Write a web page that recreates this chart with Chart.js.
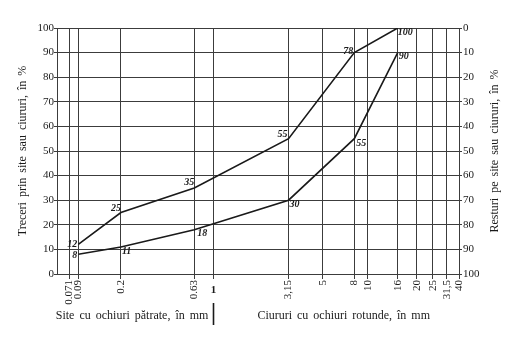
<!DOCTYPE html>
<html>
<head>
<meta charset="utf-8">
<script src="https://cdn.jsdelivr.net/npm/chart.js@4/dist/chart.umd.min.js"></script>
<style>
  html, body { margin: 0; padding: 0; background: #fff; }
  canvas { display: block; }
</style>
</head>
<body>
<canvas id="c" width="514" height="357"></canvas>
<script>
// ---- data ----
const sieveSizes  = [0.071, 0.09, 0.2, 0.63, 1, 3.15, 5, 8, 10, 16, 20, 25, 31.5, 40];
const sieveLabels = ['0.071', '0.09', '0.2', '0.63', '1', '3,15', '5', '8', '10', '16', '20', '25', '31,5', '40'];
const upperSizes   = [0.09, 0.2, 0.63, 3.15, 8, 16];
const upperPassing = [12, 25, 35, 55, 90, 100];
const upperLabels  = ['12', '25', '35', '55', '78', '100'];
const lowerSizes   = [0.09, 0.2, 0.63, 3.15, 8, 16];
const lowerPassing = [8, 11, 18, 30, 55, 90];
const lowerLabels  = ['8', '11', '18', '30', '55', '90'];
const passingTicks = [0, 10, 20, 30, 40, 50, 60, 70, 80, 90, 100];
const leftTitle   = 'Treceri prin site sau ciururi, în %';
const rightTitle  = 'Resturi pe site sau ciururi, în %';
const squareTitle = 'Site cu ochiuri pătrate, în mm';
const roundTitle  = 'Ciururi cu ochiuri rotunde, în mm';

// ---- custom sieve scale (piecewise logarithmic, calibrated to the printed chart) ----
class SieveScale extends Chart.LinearScale {
  static id = 'sieve';
  determineDataLimits() {
    const s = this.options.calibSizes;
    this.min = s[0];
    this.max = s[s.length - 1];
  }
  buildTicks() {
    return this.options.tickValues.map(v => ({ value: v }));
  }
  getDecimalForValue(v) {
    const s = this.options.calibSizes, f = this.options.calibFractions;
    if (v <= s[0]) return f[0];
    for (let i = 0; i < s.length - 1; i++) {
      if (v <= s[i + 1]) {
        const t = (Math.log(v) - Math.log(s[i])) / (Math.log(s[i + 1]) - Math.log(s[i]));
        return f[i] + t * (f[i + 1] - f[i]);
      }
    }
    return f[f.length - 1];
  }
  getPixelForValue(v) {
    if (v === null || v === undefined || isNaN(v)) return NaN;
    return this.getPixelForDecimal(this.getDecimalForValue(v));
  }
  getValueForPixel(p) {
    const d = this.getDecimalForPixel(p);
    const s = this.options.calibSizes, f = this.options.calibFractions;
    for (let i = 0; i < f.length - 1; i++) {
      if (d <= f[i + 1]) {
        const t = (d - f[i]) / (f[i + 1] - f[i]);
        return Math.exp(Math.log(s[i]) + t * (Math.log(s[i + 1]) - Math.log(s[i])));
      }
    }
    return s[s.length - 1];
  }
}
Chart.register(SieveScale);

const INK = '#1a1a1a';
const GRID = '#3c3c3c';
const SERIF = '"Liberation Serif", "DejaVu Serif", serif';

const annotate = {
  id: 'annotate',
  beforeDraw(chart) {
    const ctx = chart.ctx;
    ctx.save();
    ctx.fillStyle = '#fff';
    ctx.fillRect(0, 0, chart.width, chart.height);
    ctx.restore();
  },
  afterDraw(chart, args, opts) {
    const ctx = chart.ctx;
    const xs = chart.scales.x;
    const area = chart.chartArea;
    ctx.save();
    ctx.fillStyle = INK;
    ctx.strokeStyle = INK;

    // point value labels
    ctx.font = 'italic bold 10px ' + SERIF;
    ctx.textBaseline = 'middle';
    chart.data.datasets.forEach((ds, di) => {
      const meta = chart.getDatasetMeta(di);
      const offs = opts.offsets[di];
      meta.data.forEach((pt, i) => {
        const o = offs[i];
        ctx.textAlign = o[2];
        ctx.fillText(ds.valueLabels[i], pt.x + o[0], pt.y + o[1]);
      });
    });

    // bold upright "1"
    const x1 = xs.getPixelForValue(1);
    ctx.font = 'bold 11px ' + SERIF;
    ctx.textAlign = 'center';
    ctx.textBaseline = 'middle';
    ctx.fillText(sieveLabels[sieveSizes.indexOf(1)], x1, area.bottom + 16);

    // separator under "1"
    ctx.lineWidth = 1.6;
    ctx.beginPath();
    ctx.moveTo(Math.round(x1) + 0.5, area.bottom + 29);
    ctx.lineTo(Math.round(x1) + 0.5, area.bottom + 51);
    ctx.stroke();

    // bottom titles
    ctx.font = '12px ' + SERIF;
    if ('wordSpacing' in ctx) ctx.wordSpacing = '2px';
    ctx.textBaseline = 'middle';
    ctx.textAlign = 'right';
    ctx.fillText(squareTitle, x1 - 5, area.bottom + 42);
    ctx.textAlign = 'left';
    ctx.fillText(roundTitle, x1 + 44, area.bottom + 42);

    // vertical titles (both read bottom-to-top)
    const cy = (area.top + area.bottom) / 2 + 0;
    ctx.textAlign = 'center';
    ctx.save();
    ctx.translate(23, cy);
    ctx.rotate(-Math.PI / 2);
    ctx.fillText(leftTitle, 0, 0);
    ctx.restore();
    ctx.save();
    ctx.translate(495, cy);
    ctx.rotate(-Math.PI / 2);
    ctx.fillText(rightTitle, 0, 0);
    ctx.restore();

    ctx.restore();
  }
};

const lineStyle = {
  borderColor: INK,
  borderWidth: 1.6,
  pointRadius: 0,
  tension: 0,
  fill: false
};

new Chart(document.getElementById('c'), {
  type: 'line',
  data: {
    datasets: [
      Object.assign({
        label: 'upper',
        data: upperSizes.map((s, i) => ({ x: s, y: upperPassing[i] })),
        valueLabels: upperLabels
      }, lineStyle),
      Object.assign({
        label: 'lower',
        data: lowerSizes.map((s, i) => ({ x: s, y: lowerPassing[i] })),
        valueLabels: lowerLabels
      }, lineStyle)
    ]
  },
  options: {
    responsive: false,
    animation: false,
    devicePixelRatio: 1,
    layout: { padding: { top: 28, left: 0, right: 0, bottom: 0 } },
    plugins: {
      legend: { display: false },
      tooltip: { enabled: false },
      annotate: {
        offsets: [
          [[-1, 0, 'right'], [0, -4, 'right'], [0, -5, 'right'], [-1, -4, 'right'], [-1, -1, 'right'], [0, 4, 'left']],
          [[-1, 1, 'right'], [1, 4, 'left'], [3, 4, 'left'], [1, 4, 'left'], [2, 5, 'left'], [1, 4, 'left']]
        ]
      }
    },
    scales: {
      x: {
        type: 'sieve',
        position: 'bottom',
        calibSizes:     [0.052, 0.071, 0.09, 0.2, 0.63, 1, 3.15, 5, 8, 10, 16, 20, 25, 31.5, 40],
        calibFractions: [0, 0.0299, 0.053, 0.159, 0.3415, 0.389, 0.576, 0.661, 0.7396, 0.7736, 0.8475, 0.8948, 0.9346, 0.970, 1],
        tickValues: sieveSizes,
        afterFit(scale) { scale.height = 83; },
        grid: { color: GRID, lineWidth: 1, tickLength: 5, tickColor: GRID },
        border: { display: true, color: GRID, width: 1 },
        ticks: {
          autoSkip: false,
          minRotation: 90,
          maxRotation: 90,
          padding: 1,
          color: INK,
          font: { family: SERIF, size: 11 },
          callback: (v, i) => (sieveSizes[i] === 1 ? '' : sieveLabels[i])
        }
      },
      y: {
        type: 'linear',
        position: 'left',
        min: 0,
        max: 100,
        afterFit(scale) { scale.width = 57; },
        grid: {
          color: GRID,
          lineWidth: 1,
          tickLength: 3,
          tickColor: ctx => (passingTicks.includes(ctx.tick.value) ? GRID : 'rgba(0,0,0,0)')
        },
        border: { display: true, color: GRID, width: 1 },
        ticks: {
          stepSize: 5,
          padding: 0,
          color: INK,
          font: { family: SERIF, size: 11 },
          callback: v => (passingTicks.includes(v) ? String(v) : '')
        }
      },
      yr: {
        type: 'linear',
        position: 'right',
        reverse: true,
        min: 0,
        max: 100,
        afterFit(scale) { scale.width = 55; },
        grid: { drawOnChartArea: false, tickLength: 3, color: GRID, tickColor: GRID },
        border: { display: true, color: GRID, width: 1 },
        ticks: {
          stepSize: 10,
          padding: 1,
          color: INK,
          font: { family: SERIF, size: 11 },
          callback: v => String(v)
        }
      }
    }
  },
  plugins: [annotate]
});
</script>
</body>
</html>
